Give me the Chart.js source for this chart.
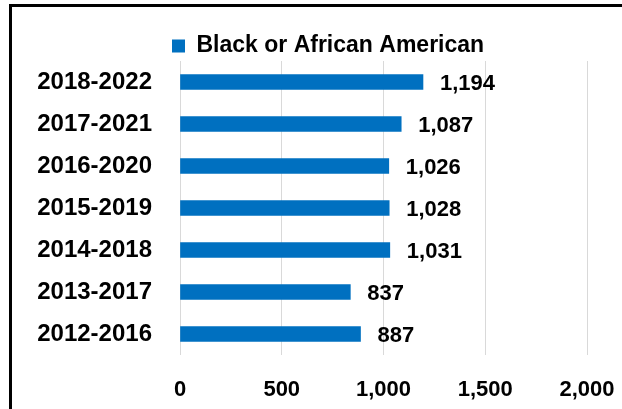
<!DOCTYPE html>
<html>
<head>
<meta charset="utf-8">
<script src="https://cdn.jsdelivr.net/npm/chart.js@4.4.1/dist/chart.umd.min.js"></script>
<style>
  html, body { margin: 0; padding: 0; background: #ffffff; overflow: hidden; }
  #wrap { position: relative; width: 622px; height: 409px; }
  #frame { position: absolute; left: 9px; top: 4px; width: 700px; height: 500px;
           border-left: 3px solid #000; border-top: 3px solid #000; box-sizing: border-box; }
  canvas { position: absolute; left: 0; top: 0; }
</style>
</head>
<body>
<div id="wrap">
  <div id="frame"></div>
  <canvas id="c" width="622" height="409"></canvas>
</div>
<script>
const categories = ["2018-2022", "2017-2021", "2016-2020", "2015-2019", "2014-2018", "2013-2017", "2012-2016"];
const seriesName = "Black or African American";
const values = [1194, 1087, 1026, 1028, 1031, 837, 887];
const xTicks = [0, 500, 1000, 1500, 2000];

const FONT = "'Liberation Sans', Arial, sans-serif";
const BLUE = "#0070C0";
const LEG_PAD = 4;

const valueLabels = {
  id: 'valueLabels',
  afterDatasetsDraw(chart) {
    const ctx = chart.ctx;
    const meta = chart.getDatasetMeta(0);
    ctx.save();
    ctx.font = "bold 22px " + FONT;
    ctx.fillStyle = "#000";
    ctx.textAlign = "left";
    ctx.textBaseline = "middle";
    meta.data.forEach((bar, i) => {
      ctx.fillText(values[i].toLocaleString('en-US'), bar.x + 17, bar.y + 2);
    });
    ctx.restore();
  }
};

const legendPlace = {
  id: 'legendPlace',
  afterLayout(chart) {
    const lg = chart.legend;
    if (!lg) return;
    const h = lg.height;
    lg.top = 46 - LEG_PAD - 11.5;
    lg.bottom = lg.top + h;
    const w = lg.width;
    lg.left = 172 - LEG_PAD;
    lg.right = lg.left + w;
  }
};

new Chart(document.getElementById('c'), {
  type: 'bar',
  data: {
    labels: categories,
    datasets: [{
      label: seriesName,
      data: values,
      backgroundColor: BLUE,
      borderWidth: 0,
      barThickness: 15
    }]
  },
  options: {
    indexAxis: 'y',
    responsive: false,
    animation: false,
    layout: { padding: { left: 0, right: 35, top: 24, bottom: 0 } },
    plugins: {
      legend: {
        position: 'top',
        align: 'start',
        labels: {
          boxWidth: 13,
          boxHeight: 13,
          padding: LEG_PAD,
          color: '#000',
          font: { family: FONT, size: 23, weight: 'bold' }
        }
      },
      tooltip: { enabled: false },
      title: { display: false }
    },
    scales: {
      x: {
        min: 0,
        max: 2000,
        afterBuildTicks(axis) { axis.ticks = xTicks.map(v => ({ value: v })); },
        afterFit(axis) { axis.height = 54; axis.paddingLeft = 0; axis.paddingRight = 0; },
        grid: { color: '#d9d9d9', lineWidth: 1, drawTicks: false },
        border: { display: false },
        ticks: {
          padding: 22,
          color: '#000',
          font: { family: FONT, size: 22, weight: 'bold' },
          callback: (v) => Number(v).toLocaleString('en-US')
        }
      },
      y: {
        afterFit(axis) { axis.width = 180; axis.paddingTop = 0; axis.paddingBottom = 0; },
        grid: { display: false, drawTicks: false },
        border: { display: false },
        ticks: {
          padding: 28,
          color: '#000',
          font: { family: FONT, size: 24, weight: 'bold' }
        }
      }
    }
  },
  plugins: [valueLabels, legendPlace]
});
</script>
</body>
</html>
